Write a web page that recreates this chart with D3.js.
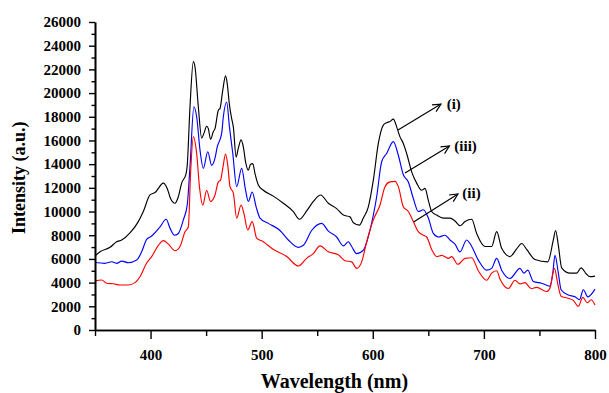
<!DOCTYPE html>
<html><head><meta charset="utf-8">
<script src="https://cdnjs.cloudflare.com/ajax/libs/d3/7.8.5/d3.min.js"></script>
<style>
body{margin:0;background:#fff}
svg{display:block}
text{font-family:"Liberation Serif","Times New Roman",serif;font-weight:bold;fill:#000}
</style>
</head><body>
<svg id="chart" width="609" height="393"></svg>
<script>
// ---- data ----
const wlI = [350,354.5,363.5,369.5,374,381.5,389,393.5,399.5,404,411.5,415,418,422,425,428,432,433,435.5,438.5,440,443,446,448,450.5,452,454,456.5,458,461,462.5,465,467.5,469,471,473,474.5,477,479,481.5,483.5,485.5,488,490,492,494,497,501.5,510.5,519.5,528.5,534,540.5,546.5,553,560,567.5,573.5,579.5,582.5,588,591.5,596,600.5,605,609.5,612.5,615.5,618.5,621.5,624.5,627.5,630.5,635,639.5,644,647,650,653,657.5,663.5,669.5,674,678.5,683,689,693.5,701,707,711.5,716,723.5,729.5,734,738.5,746,757.5,762.5,764.5,767,770,777.5,783.5,787.5,792,795.5,800];
const intI = [6250,6600,6980,7450,7600,8200,9150,10000,11400,11600,12400,11950,11100,10700,11250,12400,13200,13900,18850,22650,22200,18850,16200,16600,17200,17000,16100,16750,17000,18550,18700,20250,21450,20800,19000,17850,17150,14600,15350,16050,15450,14200,13500,14000,14050,13200,12250,11800,11300,10700,10000,9350,10050,10850,11400,10700,10250,9700,9550,9050,8850,9450,10400,12650,15750,17300,17500,17600,17800,17150,16300,15750,14900,13350,12400,11800,11950,10950,10000,9700,9450,9450,9200,8800,9150,9350,8150,7050,7050,8300,6900,6200,6850,7300,6800,5950,5750,7600,8400,7150,5250,4800,4800,5250,4750,4500,4550];

const wlIII = [350,359,365,369.5,374,380,387.5,392,396.5,401,408.5,414,417.5,421.5,425,429.5,433,435.5,439,441.5,444.5,447.5,451.5,455,458,460,464,465.5,468.5,471,474,477.5,482,485.5,488,491.5,495,498.5,506,516.5,524,533,537.5,545,554,560,567.5,573.5,578,581,585.5,591.5,597.5,603.5,608,612.5,618.5,623,627.5,632,636.5,641,645.5,650,654.5,659,665,669.5,674,678.5,684.5,687.5,695,702.5,707,711.5,716,723.5,732.5,736,739.5,744.5,752,759.5,762,764,767,769.5,776,782,786,789.5,793.5,800];
const intIII = [5700,5630,5760,5630,5820,5680,5900,6600,7650,7930,8700,9350,8600,8000,8150,9300,10550,13800,18850,18000,15200,13650,15050,13900,14500,15450,16600,18000,19250,17150,14900,12100,13650,11800,10850,11650,10400,9450,9000,8400,7600,6980,7150,8400,9000,8350,7850,7100,7450,7050,6450,6750,8440,11250,14200,14900,15900,14750,13100,12500,11100,10000,10150,9450,8150,7850,8000,7600,7250,6600,7600,7300,5900,5050,5200,6050,5050,4350,5200,4800,5050,4100,3950,3700,4800,6300,4800,3400,2950,2800,2550,3400,2800,3450];

const wlII = [350,356,360.5,366.5,372.5,380,386,390.5,396.5,401,407,411.5,416,422,426.5,431,434,436,438.5,441.5,444,447,450.5,454,458,461,463,465,467.5,469.5,471.5,474.5,477.5,481.5,484,487.5,491.5,495.5,501.5,509,522.5,533,540.5,546.5,552.5,560,569,575,581,585.5,590,594.5,600.5,606.5,611,615.5,620,623,627.5,632,636.5,641,645.5,648.5,653,657.5,662,668,671,676.5,683,689,695,702.5,707,711.5,714.5,722,728,732.5,737,742.5,747.5,756.5,759.5,763.5,766.5,769.5,775,780.5,785,789,793,796.5,800];
const intII = [4150,4220,3950,3900,3800,3800,4000,4500,5650,6200,7150,7550,7250,6700,7050,8300,8700,13200,16300,14900,12100,10550,11800,10850,11400,12500,12650,13650,14850,13900,12100,11550,9450,10550,9850,8440,9150,7750,7450,6900,6200,5400,6050,6450,7100,6600,6350,5850,5750,5200,5750,7450,9300,10550,12100,12500,12550,12100,10400,10000,9150,8300,8000,7850,6800,6200,6300,6050,6200,5550,6050,6100,5000,4200,4800,5000,4300,3500,4200,3900,4000,3500,3600,3250,3550,5200,3900,2850,2700,2500,2000,2750,2300,2550,2100];

const seriesNames = ["(i)", "(iii)", "(ii)"];
const seriesColors = ["#000000", "#0000ff", "#ff0000"];
const xTickLabels = [400, 500, 600, 700, 800];
const yTickLabels = [0,2000,4000,6000,8000,10000,12000,14000,16000,18000,20000,22000,24000,26000];
// annotation arrows: [start wl, start int], [end wl, end int], label anchor [wl, int]
const arrowStart = [[622.7,16880],[629,13250],[636.7,9115]];
const arrowEnd = [[661.4,19070],[669,15530],[676.7,11480]];
const labelPos = [[666.5,18650],[673.4,15110],[680.6,11140]];

// ---- drawing ----
const svg = d3.select("#chart");
const x = d3.scaleLinear().domain([350, 800]).range([95, 595]);
const y = d3.scaleLinear().domain([0, 26000]).range([330, 22]);

const series = [
  {wl: wlI, v: intI},
  {wl: wlIII, v: intIII},
  {wl: wlII, v: intII}
];

const line = d3.line().x(d => x(d[0])).y(d => y(d[1])).curve(d3.curveMonotoneX);
series.forEach((s, i) => {
  svg.append("path")
    .datum(s.wl.map((w, j) => [w, s.v[j]]))
    .attr("fill", "none")
    .attr("stroke", seriesColors[i])
    .attr("stroke-width", 1.15)
    .attr("d", line);
});

// axes
function styleAxis(g) {
  g.select(".domain").attr("stroke", "#000").attr("stroke-width", 1.6);
  g.selectAll(".tick line").attr("stroke", "#000").attr("stroke-width", 1.4);
  g.selectAll("text").attr("font-size", 15).attr("font-family", "'Liberation Serif','Times New Roman',serif").attr("font-weight", "bold");
}
const yMinor = d3.range(1000, 26000, 2000);
svg.append("g").attr("transform", "translate(95,0)")
  .call(d3.axisLeft(y).tickValues(yMinor).tickSize(3.5).tickSizeOuter(0).tickFormat(""))
  .call(styleAxis);
svg.append("g").attr("transform", "translate(95,0)")
  .call(d3.axisLeft(y).tickValues(yTickLabels).tickSize(6).tickSizeOuter(0).tickPadding(8).tickFormat(d3.format("d")))
  .call(styleAxis);

const xMinor = [350, 450, 550, 650, 750];
svg.append("g").attr("transform", "translate(0,330)")
  .call(d3.axisBottom(x).tickValues(xMinor).tickSize(6).tickSizeOuter(0).tickFormat(""))
  .call(styleAxis);
svg.append("g").attr("transform", "translate(0,330)")
  .call(d3.axisBottom(x).tickValues(xTickLabels).tickSize(9).tickSizeOuter(0).tickPadding(10).tickFormat(d3.format("d")))
  .call(styleAxis);

// axis titles
svg.append("text")
  .attr("x", x(565.5)).attr("y", 388)
  .attr("text-anchor", "middle")
  .attr("font-size", 20)
  .text("Wavelength (nm)");
svg.append("text")
  .attr("transform", `translate(25,${y(12850)}) rotate(-90)`)
  .attr("text-anchor", "middle")
  .attr("font-size", 18)
  .text("Intensity (a.u.)");

// annotations
arrowStart.forEach((s, i) => {
  const x1 = x(s[0]), y1 = y(s[1]), x2 = x(arrowEnd[i][0]), y2 = y(arrowEnd[i][1]);
  const ang = Math.atan2(y2 - y1, x2 - x1);
  const L = 9, spread = 0.45;
  const g = svg.append("g").attr("stroke", "#000").attr("stroke-width", 1.15).attr("fill", "none");
  g.append("line").attr("x1", x1).attr("y1", y1).attr("x2", x2).attr("y2", y2);
  g.append("path").attr("d", d3.line()([
    [x2 - L * Math.cos(ang - spread), y2 - L * Math.sin(ang - spread)],
    [x2, y2],
    [x2 - L * Math.cos(ang + spread), y2 - L * Math.sin(ang + spread)]
  ]));
  svg.append("text")
    .attr("x", x(labelPos[i][0])).attr("y", y(labelPos[i][1]))
    .attr("font-size", 15)
    .text(seriesNames[i]);
});
</script>
</body></html>
